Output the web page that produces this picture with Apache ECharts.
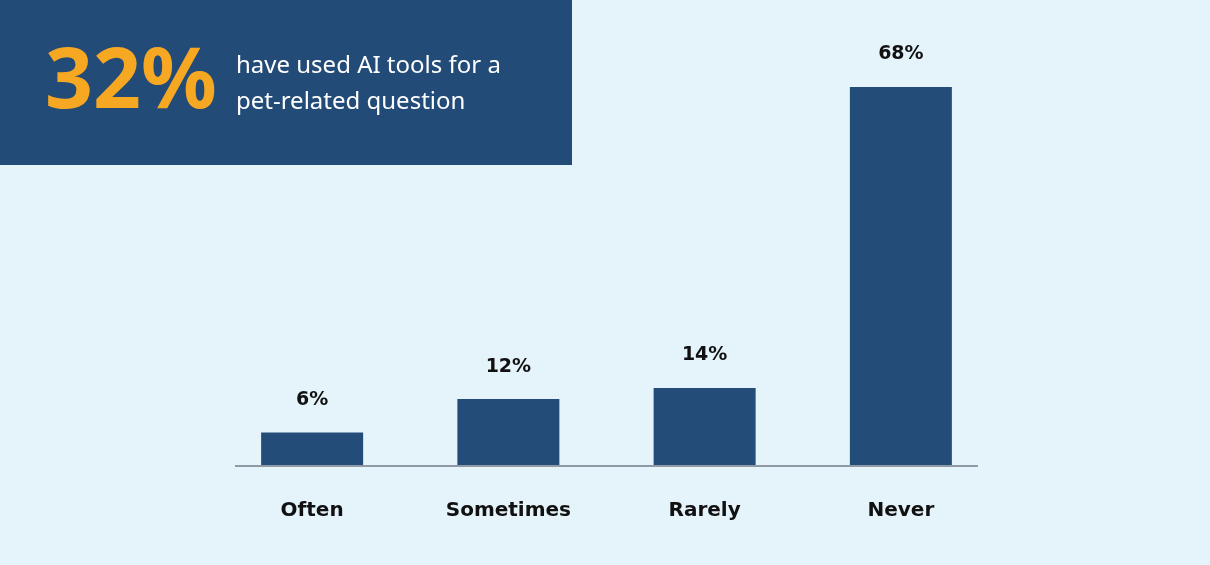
<!DOCTYPE html>
<html>
<head>
<meta charset="utf-8">
<script src="https://cdn.jsdelivr.net/npm/echarts@6/dist/echarts.min.js"></script>
<style>
  html, body { margin: 0; padding: 0; background: #e5f3fa; }
  #chart { width: 1210px; height: 565px; }
</style>
</head>
<body>
<div id="chart"></div>
<script>
var categories = ['Often', 'Sometimes', 'Rarely', 'Never'];
var shares = [6, 12, 14, 68];
var headline = '32%';
var headlineText = ['have used AI tools for a', 'pet-related question'];

var chartDom = document.getElementById('chart');
var myChart = echarts.init(chartDom);

var option = {
  backgroundColor: '#e5f3fa',
  animation: false,
  grid: { left: 214, width: 785, bottom: 99, top: 20 },
  xAxis: {
    type: 'category',
    data: categories,
    axisLine: { show: false },
    axisTick: { show: false },
    axisLabel: {
      margin: 35,
      color: '#111',
      fontFamily: 'DejaVu Sans',
      fontWeight: 'bold',
      fontSize: 20
    }
  },
  yAxis: {
    type: 'value',
    min: 0,
    max: 80,
    show: false,
    splitLine: { show: false }
  },
  series: [
    {
      type: 'bar',
      data: shares,
      barWidth: 102,
      itemStyle: { color: '#244c78' },
      label: {
        show: true,
        position: 'top',
        distance: 23,
        formatter: '{c}%',
        color: '#111',
        fontFamily: 'DejaVu Sans',
        fontWeight: 'bold',
        fontSize: 19
      }
    }
  ],
  graphic: [
    {
      type: 'line',
      shape: { x1: 235, y1: 466, x2: 978, y2: 466 },
      style: { stroke: '#8f9aa6', lineWidth: 2 },
      z: 5
    },
    {
      type: 'rect',
      shape: { x: 0, y: 0, width: 572, height: 165 },
      style: { fill: '#234b77' }
    },
    {
      type: 'text',
      left: 45,
      top: 42,
      style: {
        text: headline,
        fill: '#f7a823',
        fontFamily: 'Noto Sans',
        fontWeight: 'bold',
        fontSize: 84
      }
    },
    {
      type: 'text',
      left: 236,
      top: 48,
      style: {
        text: headlineText.join('\n'),
        fill: '#ffffff',
        fontFamily: 'Noto Sans',
        fontSize: 24,
        lineHeight: 36
      }
    }
  ]
};

option && myChart.setOption(option);
</script>
</body>
</html>
